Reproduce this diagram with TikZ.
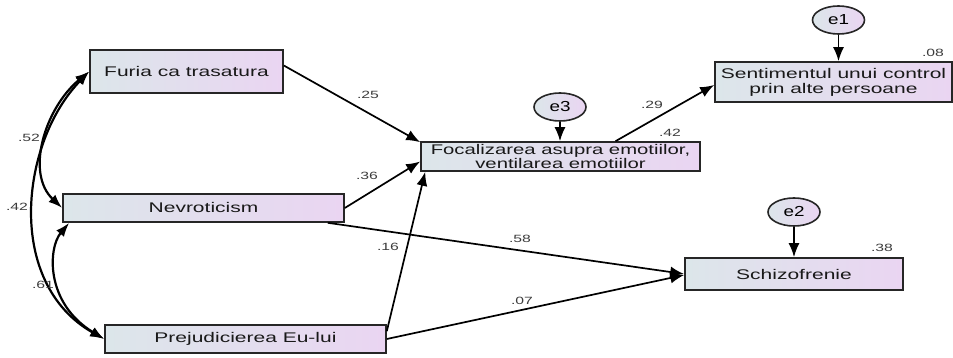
\documentclass[tikz,border=0pt]{standalone}
\usepackage{fontspec}
\setmainfont{Liberation Sans}
\usepackage{graphicx}
\usetikzlibrary{arrows.meta,shapes.geometric}
\definecolor{boxL}{RGB}{220,230,234}
\definecolor{boxR}{RGB}{234,213,242}
\definecolor{lbl}{RGB}{60,60,60}
% horizontally widened text
\newcommand{\wtxt}[2][1.5]{\scalebox{#1}[1]{#2}}
\begin{document}
\begin{tikzpicture}[x=1pt,y=1pt,
  var/.style={draw=black!85, line width=1.6pt, left color=boxL, right color=boxR,
    inner sep=0pt, align=center, font=\fontsize{14}{13}\selectfont, text=black!90},
  err/.style={ellipse, draw=black!85, line width=1.6pt, left color=boxL, right color=boxR,
    minimum width=52pt, minimum height=28pt, inner sep=0pt, font=\fontsize{14.5}{14}\selectfont},
  reg/.style={line width=1.7pt, -{Latex[length=14pt,width=11pt]}},
  cov/.style={line width=2.2pt, {Latex[length=14pt,width=10pt]}-{Latex[length=14pt,width=10pt]}},
  coef/.style={font=\fontsize{10.5}{11}\selectfont, text=lbl, inner sep=0pt}
]
\useasboundingbox (0,0) rectangle (953,358);

% observed variables
\node[var, minimum width=193pt, minimum height=43pt] (furia) at (186.5,286.5) {\wtxt{Furia ca trasatura}};
\node[var, minimum width=281pt, minimum height=28pt] (nev) at (203.5,150) {\wtxt{Nevroticism}};
\node[var, minimum width=281pt, minimum height=28pt] (prej) at (245.5,19) {\wtxt{Prejudicierea Eu-lui}};
\node[var, minimum width=279pt, minimum height=29pt] (foc) at (560.5,201.5)
  {\wtxt[1.45]{Focalizarea asupra emotiilor,}\\\wtxt[1.45]{ventilarea emotiilor}};
\node[var, minimum width=237pt, minimum height=40pt, font=\fontsize{14}{15}\selectfont] (sent) at (833.5,276)
  {\wtxt{Sentimentul unui control}\\\wtxt{prin alte persoane}};
\node[var, minimum width=218pt, minimum height=32pt] (schizo) at (794,84) {\wtxt{Schizofrenie}};

% error terms
\node[err] (e1) at (838.5,338) {\wtxt[1.3]{e1}};
\node[err] (e3) at (560,251) {\wtxt[1.3]{e3}};
\node[err] (e2) at (794,146) {\wtxt[1.3]{e2}};

% error paths
\draw[reg] (e1.south) -- (e1.south |- sent.north);
\draw[reg] (e3.south) -- (e3.south |- foc.north);
\draw[reg] (e2.south) -- (e2.south |- schizo.north);

% regression paths
\draw[reg] ([yshift=6pt]furia.east) -- ([yshift=-1pt]foc.north west);
\draw[reg] (nev.east) -- ([yshift=-5pt]foc.west);
\draw[reg] ([yshift=-7pt]prej.north east) -- ([xshift=5pt]foc.south west);
\draw[reg] ([xshift=-17pt]nev.south east) -- (schizo.west);
\draw[reg] (prej.east) -- ([yshift=-1pt]schizo.west);
\draw[reg] ([xshift=55pt]foc.north) -- ([yshift=-3pt]sent.west);

% covariances
\draw[cov] (furia.west) .. controls (45,250) and (25,185) .. (nev.west);
\draw[cov] (furia.west) .. controls (20,215) and (5,75) .. (prej.west);
\draw[cov] ([xshift=7pt]nev.south west) .. controls (48,110) and (45,55) .. (prej.west);

% coefficients
\node[coef] (k25) at (368,263) {\wtxt[1.5]{.25}};
\node[coef] (k36) at (367,182) {\wtxt[1.5]{.36}};
\node[coef] (k16) at (388,111) {\wtxt[1.5]{.16}};
\node[coef] (k58) at (520,119) {\wtxt[1.5]{.58}};
\node[coef] (k07) at (522,57) {\wtxt[1.5]{.07}};
\node[coef] (k29) at (652,253) {\wtxt[1.5]{.29}};
\node[coef] (k42f) at (670,225) {\wtxt[1.5]{.42}};
\node[coef] (k08) at (933,305) {\wtxt[1.5]{.08}};
\node[coef] (k38) at (882,110) {\wtxt[1.5]{.38}};
\node[coef] (k52) at (29,220) {\wtxt[1.5]{.52}};
\node[coef] (k42) at (17,151) {\wtxt[1.5]{.42}};
\node[coef] (k61) at (43,73) {\wtxt[1.5]{.61}};
\end{tikzpicture}
\end{document}
